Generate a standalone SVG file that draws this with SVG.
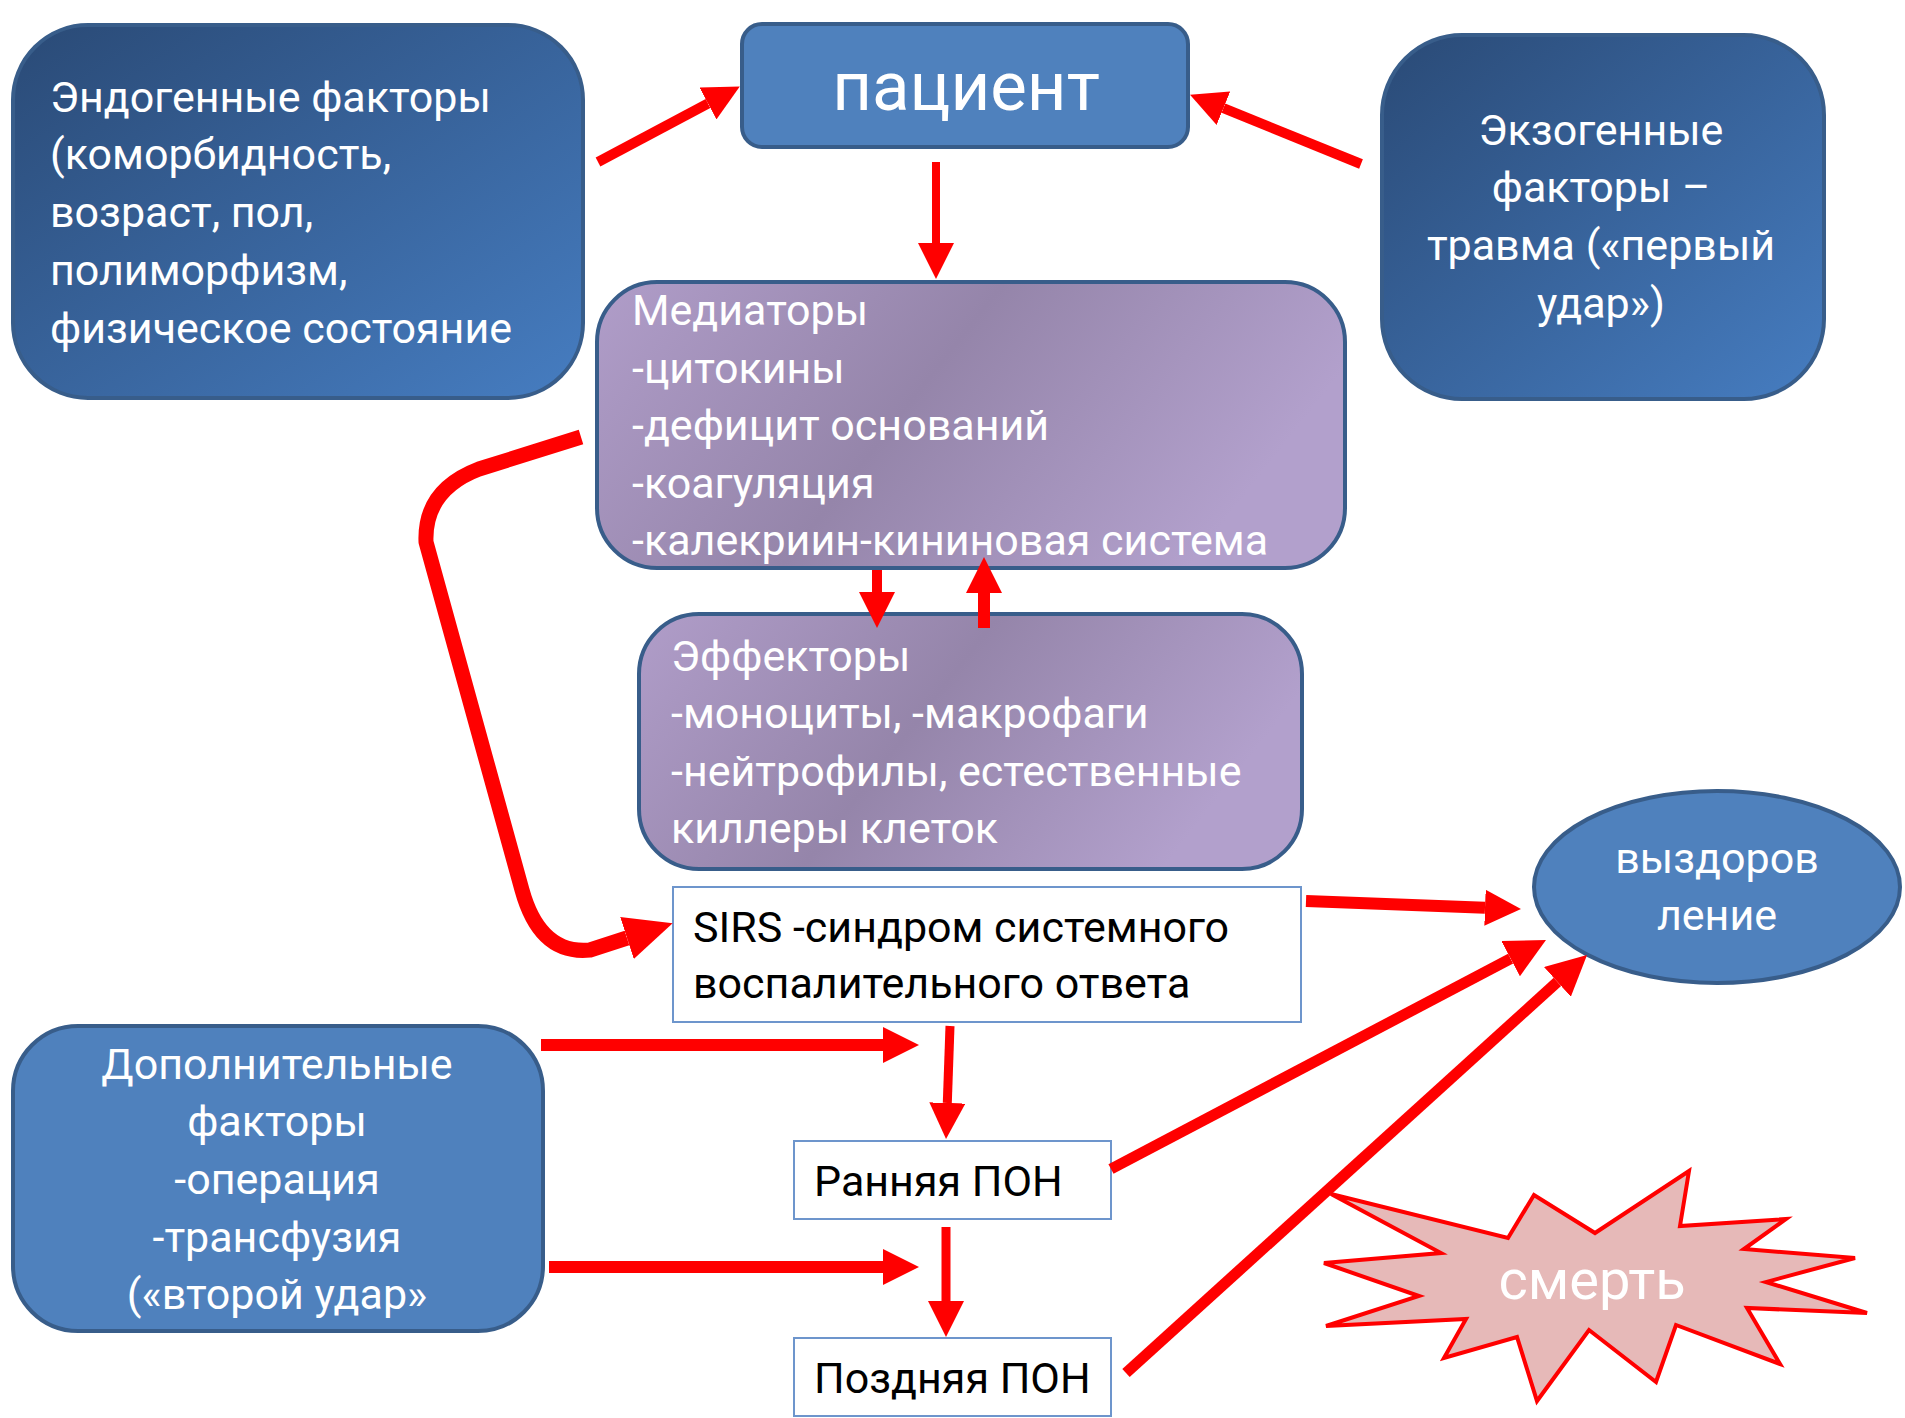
<svg xmlns="http://www.w3.org/2000/svg" width="1905" height="1418" viewBox="0 0 1905 1418">
<style>
.t{font-family:Roboto,"Open Sans","Liberation Sans",sans-serif;font-size:43px;fill:#fff}
.tb{font-family:Roboto,"Open Sans","Liberation Sans",sans-serif;font-size:43px;fill:#000}
.bx{stroke:#385D8A;stroke-width:4}
.wb{fill:#fff;stroke:#6D95CC;stroke-width:2}
.ln{stroke:#FF0000;fill:none}
</style>
<defs>
<linearGradient id="gB" x1="0" y1="0" x2="1" y2="1">
<stop offset="0" stop-color="#2A4A76"/><stop offset="1" stop-color="#467DC1"/>
</linearGradient>
<linearGradient id="gP" x1="0" y1="0" x2="1" y2="0.3">
<stop offset="0" stop-color="#B09DC9"/><stop offset="0.5" stop-color="#9585AA"/><stop offset="1" stop-color="#B2A0CC"/>
</linearGradient>
<marker id="hM" markerUnits="userSpaceOnUse" viewBox="0 0 36 36" markerWidth="36" markerHeight="36" refX="0" refY="18" orient="auto"><path d="M0,0 L36,18 L0,36 Z" fill="#FF0000"/></marker>
<marker id="hL" markerUnits="userSpaceOnUse" viewBox="0 0 40 40" markerWidth="40" markerHeight="40" refX="0" refY="20" orient="auto"><path d="M0,0 L40,20 L0,40 Z" fill="#FF0000"/></marker>
<marker id="hC" markerUnits="userSpaceOnUse" viewBox="0 0 48 44" markerWidth="48" markerHeight="44" refX="0" refY="22" orient="auto"><path d="M0,0 L48,22 L0,44 Z" fill="#FF0000"/></marker>
</defs>

<g id="endogenous">
<rect class="bx" x="13" y="25" width="570" height="373" rx="75" fill="url(#gB)"/>
<text class="t" x="50" y="112">Эндогенные факторы</text>
<text class="t" x="50" y="169">(коморбидность,</text>
<text class="t" x="50" y="227">возраст, пол,</text>
<text class="t" x="50" y="285">полиморфизм,</text>
<text class="t" x="50" y="343">физическое состояние</text>
</g>

<g id="patient">
<rect class="bx" x="742" y="24" width="446" height="123" rx="20" fill="#4F81BD"/>
<text class="t" x="966" y="110" text-anchor="middle" style="font-size:69px">пациент</text>
</g>

<g id="exogenous">
<rect class="bx" x="1382" y="35" width="442" height="364" rx="80" fill="url(#gB)"/>
<text class="t" x="1601" y="145" text-anchor="middle">Экзогенные</text>
<text class="t" x="1601" y="202" text-anchor="middle">факторы –</text>
<text class="t" x="1601" y="260" text-anchor="middle">травма («первый</text>
<text class="t" x="1601" y="318" text-anchor="middle">удар»)</text>
</g>

<g id="mediators">
<rect class="bx" x="597" y="282" width="748" height="286" rx="60" fill="url(#gP)"/>
<text class="t" x="632" y="325">Медиаторы</text>
<text class="t" x="632" y="383">-цитокины</text>
<text class="t" x="632" y="440">-дефицит оснований</text>
<text class="t" x="632" y="498">-коагуляция</text>
<text class="t" x="632" y="555">-калекриин-кининовая система</text>
</g>

<g id="effectors">
<rect class="bx" x="639" y="614" width="663" height="255" rx="60" fill="url(#gP)"/>
<text class="t" x="671" y="671">Эффекторы</text>
<text class="t" x="671" y="728">-моноциты, -макрофаги</text>
<text class="t" x="671" y="786">-нейтрофилы, естественные</text>
<text class="t" x="671" y="843">киллеры клеток</text>
</g>

<g id="sirs">
<rect class="wb" x="673" y="887" width="628" height="135"/>
<text class="tb" x="693" y="942">SIRS -синдром системного</text>
<text class="tb" x="693" y="998">воспалительного ответа</text>
</g>

<g id="recovery">
<ellipse class="bx" cx="1717" cy="887" rx="183" ry="96" fill="#4F81BD"/>
<text class="t" x="1717" y="873" text-anchor="middle">выздоров</text>
<text class="t" x="1717" y="930" text-anchor="middle">ление</text>
</g>

<g id="additional">
<rect class="bx" x="13" y="1026" width="530" height="305" rx="65" fill="#4F81BD"/>
<text class="t" x="277" y="1079" text-anchor="middle">Дополнительные</text>
<text class="t" x="277" y="1136" text-anchor="middle">факторы</text>
<text class="t" x="277" y="1194" text-anchor="middle">-операция</text>
<text class="t" x="277" y="1252" text-anchor="middle">-трансфузия</text>
<text class="t" x="277" y="1309" text-anchor="middle">(«второй удар»</text>
</g>

<g id="early">
<rect class="wb" x="794" y="1141" width="317" height="78"/>
<text class="tb" x="814" y="1196">Ранняя ПОН</text>
</g>

<g id="late">
<rect class="wb" x="794" y="1338" width="317" height="78"/>
<text class="tb" x="814" y="1393">Поздняя ПОН</text>
</g>

<g id="death">
<polygon points="1331,1194 1508,1238 1534,1195 1595,1233 1689,1171 1680,1226 1786,1219 1744,1249 1855,1258 1766,1282 1867,1313 1747,1308 1780,1364 1676,1325 1656,1382 1589,1330 1537,1401 1517,1337 1444,1358 1466,1319 1326,1326 1419,1296 1324,1263 1441,1253" fill="#E6B9B8" stroke="#FF0000" stroke-width="4" stroke-linejoin="miter"/>
<text class="t" x="1592" y="1299" text-anchor="middle" style="font-size:56px">смерть</text>
</g>

<g id="connectors">
<line class="ln" x1="598" y1="162" x2="708" y2="103.5" stroke-width="10" marker-end="url(#hM)"/>
<line class="ln" x1="1361" y1="164" x2="1223.4" y2="108.2" stroke-width="10" marker-end="url(#hM)"/>
<line class="ln" x1="936" y1="162" x2="936" y2="243" stroke-width="8" marker-end="url(#hM)"/>
<line class="ln" x1="877" y1="570" x2="877" y2="592" stroke-width="10" marker-end="url(#hM)"/>
<line class="ln" x1="984" y1="628" x2="984" y2="593" stroke-width="12" marker-end="url(#hM)"/>
<path class="ln" d="M581,437 L479,469 Q424,490 426,542 L522,890 Q540,955 590,950 L627,938" stroke-width="15" stroke-linejoin="round" marker-end="url(#hC)"/>
<line class="ln" x1="1306" y1="901" x2="1485" y2="907.7" stroke-width="12" marker-end="url(#hM)"/>
<line class="ln" x1="1111" y1="1169" x2="1510.6" y2="958.6" stroke-width="11" marker-end="url(#hL)"/>
<line class="ln" x1="1126" y1="1373" x2="1557.4" y2="981.9" stroke-width="11" marker-end="url(#hL)"/>
<line class="ln" x1="541" y1="1045" x2="883" y2="1045" stroke-width="12" marker-end="url(#hM)"/>
<line class="ln" x1="549" y1="1267" x2="883" y2="1267" stroke-width="12" marker-end="url(#hM)"/>
<line class="ln" x1="950" y1="1026" x2="947.3" y2="1103" stroke-width="9" marker-end="url(#hM)"/>
<line class="ln" x1="946" y1="1227" x2="946" y2="1301" stroke-width="9" marker-end="url(#hM)"/>
</g>
</svg>
